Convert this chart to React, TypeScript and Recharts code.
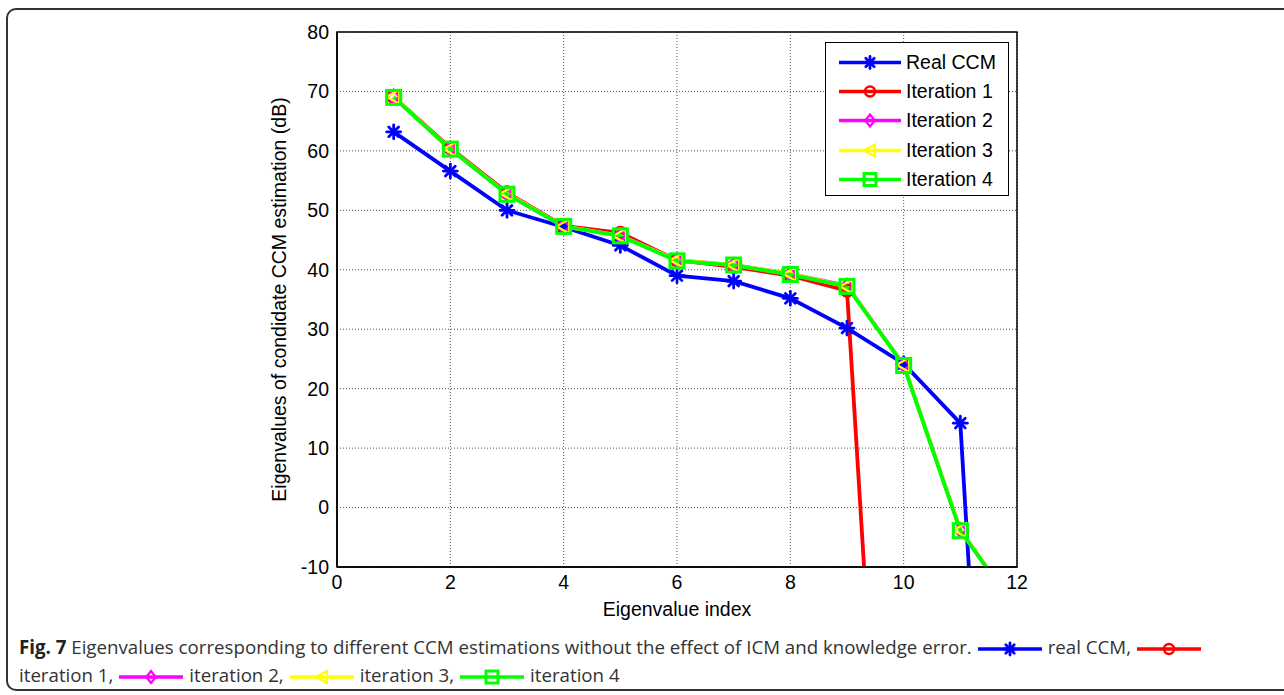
import React from 'react';
import {
  LineChart, Line, XAxis, YAxis, CartesianGrid, Legend, ReferenceArea
} from 'recharts';

// eigenvalue index on the x axis
const indices: number[] = [1, 2, 3, 4, 5, 6, 7, 8, 9, 10, 11, 12];

// eigenvalues (dB); the last points fall far below the axis and get clipped
const realCcm: number[] = [63.2, 56.6, 50.0, 47.2, 44.1, 39.0, 38.1, 35.2, 30.2, 24.2, 14.2, -147];
const iteration1: number[] = [69.1, 60.5, 53.0, 47.4, 46.2, 41.6, 40.5, 39.0, 36.5, -118];
const iteration2: number[] = [69.1, 60.3, 52.8, 47.3, 45.8, 41.6, 40.8, 39.3, 37.3, 24.0, -3.8, -17.3];
const iteration3: number[] = [69.1, 60.3, 52.8, 47.3, 45.7, 41.6, 40.8, 39.3, 37.2, 24.0, -3.8, -17.3];
const iteration4: number[] = [69.0, 60.3, 52.7, 47.3, 45.7, 41.5, 40.8, 39.2, 37.2, 23.9, -3.9, -17.3];

const xTicks: number[] = [0, 2, 4, 6, 8, 10, 12];
const yTicks: number[] = [-10, 0, 10, 20, 30, 40, 50, 60, 70, 80];

type MarkerKind = 'star' | 'circle' | 'diamond' | 'triangle' | 'square';

const series = [
  { key: 'real', name: 'Real CCM', caption: 'real CCM,', values: realCcm, color: '#0000ff', marker: 'star' as MarkerKind },
  { key: 'it1', name: 'Iteration 1', caption: 'iteration 1,', values: iteration1, color: '#ff0000', marker: 'circle' as MarkerKind },
  { key: 'it2', name: 'Iteration 2', caption: 'iteration 2,', values: iteration2, color: '#ff00ff', marker: 'diamond' as MarkerKind },
  { key: 'it3', name: 'Iteration 3', caption: 'iteration 3,', values: iteration3, color: '#ffff00', marker: 'triangle' as MarkerKind },
  { key: 'it4', name: 'Iteration 4', caption: 'iteration 4', values: iteration4, color: '#00ff00', marker: 'square' as MarkerKind },
];

const AXIS_FONT = '"Liberation Sans", Arial, sans-serif';
const CAPTION_FONT = '"Open Sans", "Noto Sans", sans-serif';

const Marker = ({ kind, cx, cy, color, s = 6 }: { kind: MarkerKind; cx: number; cy: number; color: string; s?: number }) => {
  switch (kind) {
    case 'star':
      return (
        <g stroke={color} strokeWidth={2.8} strokeLinecap="round">
          <line x1={cx - s} y1={cy} x2={cx + s} y2={cy} />
          <line x1={cx} y1={cy - s} x2={cx} y2={cy + s} />
          <line x1={cx - s * 0.7} y1={cy - s * 0.7} x2={cx + s * 0.7} y2={cy + s * 0.7} />
          <line x1={cx - s * 0.7} y1={cy + s * 0.7} x2={cx + s * 0.7} y2={cy - s * 0.7} />
        </g>
      );
    case 'circle':
      return <circle cx={cx} cy={cy} r={s - 1} fill="none" stroke={color} strokeWidth={2.5} />;
    case 'diamond':
      return <polygon points={`${cx},${cy - s} ${cx + s * 0.8},${cy} ${cx},${cy + s} ${cx - s * 0.8},${cy}`} fill="none" stroke={color} strokeWidth={2.2} />;
    case 'triangle':
      return <polygon points={`${cx - s},${cy} ${cx + s * 0.8},${cy - s} ${cx + s * 0.8},${cy + s}`} fill="none" stroke={color} strokeWidth={2.2} />;
    default:
      return <rect x={cx - s} y={cy - s} width={s * 2} height={s * 2} fill="none" stroke={color} strokeWidth={3} />;
  }
};

const makeDot = (kind: MarkerKind, color: string) => (p: any) => {
  const k = `${kind}-${p.index}`;
  if (p.value == null || p.value < -10 || !Number.isFinite(p.cy)) return <g key={k} />;
  return <g key={k}><Marker kind={kind} cx={p.cx} cy={p.cy} color={color} s={7} /></g>;
};

const LineIcon = ({ color, kind, width = 80, height = 29, x1 = 13, x2 = 75 }: { color: string; kind: MarkerKind; width?: number; height?: number; x1?: number; x2?: number }) => (
  <svg width={width} height={height} style={{ display: 'block', flex: 'none' }}>
    <line x1={x1} y1={height / 2} x2={x2} y2={height / 2} stroke={color} strokeWidth={3.5} />
    <Marker kind={kind} cx={(x1 + x2) / 2} cy={height / 2} color={color} />
  </svg>
);

const ChartLegend = () => (
  <div style={{
    width: 184, height: 154, boxSizing: 'border-box', border: '1.5px solid #000',
    background: '#fff', padding: '5px 0', fontFamily: AXIS_FONT, fontSize: 19.5, color: '#000'
  }}>
    {series.map(s => (
      <div key={s.key} style={{ display: 'flex', alignItems: 'center', height: 29.2 }}>
        <LineIcon color={s.color} kind={s.marker} />
        <span style={{ whiteSpace: 'nowrap' }}>{s.name}</span>
      </div>
    ))}
  </div>
);

const CaptionIcon = ({ color, kind }: { color: string; kind: MarkerKind }) => (
  <span style={{ display: 'inline-block', verticalAlign: 'middle', margin: '0 6px 0 6px' }}>
    <LineIcon color={color} kind={kind} width={64} height={20} x1={0} x2={64} />
  </span>
);

export default function App() {
  return (
    <div style={{ position: 'absolute', left: 0, top: 0, width: 1284, height: 695, background: '#fff', overflow: 'hidden' }}>
      <div style={{
        position: 'absolute', left: 6, top: 8, width: 1320, height: 683, boxSizing: 'border-box',
        border: '2px solid #333', borderRadius: 10
      }} />
      <div style={{ position: 'absolute', left: 0, top: 0 }}>
        <LineChart width={1284} height={630} margin={{ top: 32, right: 267, bottom: 23, left: 277 }}>
          <CartesianGrid stroke="#555" strokeDasharray="1 2" strokeWidth={1} />
          <XAxis
            type="number"
            dataKey="x"
            domain={[0, 12]}
            ticks={xTicks}
            interval={0}
            height={40}
            allowDataOverflow
            tickLine={false}
            axisLine={{ stroke: '#000', strokeWidth: 1.5 }}
            tick={{ fill: '#000', fontSize: 19.5, fontFamily: AXIS_FONT }}
            label={{
              content: ({ viewBox }: any) => (
                <text x={viewBox.x + viewBox.width / 2} y={viewBox.y + 49} textAnchor="middle"
                  fill="#000" fontSize={19.5} fontFamily={AXIS_FONT}>Eigenvalue index</text>
              )
            }}
          />
          <YAxis
            type="number"
            domain={[-10, 80]}
            ticks={yTicks}
            interval={0}
            width={60}
            allowDataOverflow
            tickLine={false}
            axisLine={{ stroke: '#000', strokeWidth: 1.5 }}
            tick={{ fill: '#000', fontSize: 19.5, fontFamily: AXIS_FONT }}
            label={{
              content: ({ viewBox }: any) => {
                const cx = viewBox.x + 2;
                const cy = viewBox.y + viewBox.height / 2;
                return (
                  <text x={cx} y={cy} transform={`rotate(-90, ${cx}, ${cy})`} textAnchor="middle"
                    dominantBaseline="central" fill="#000" fontSize={19.5} fontFamily={AXIS_FONT}>
                    Eigenvalues of condidate CCM estimation (dB)
                  </text>
                );
              }
            }}
          />
          <ReferenceArea x1={0} x2={12} y1={-10} y2={80} fill="none" stroke="#000" strokeWidth={1.5} />
          {series.map(s => (
            <Line
              key={s.key}
              name={s.name}
              data={s.values.map((v, i) => ({ x: indices[i], y: v }))}
              dataKey="y"
              type="linear"
              stroke={s.color}
              strokeWidth={3.8}
              dot={makeDot(s.marker, s.color)}
              activeDot={false}
              isAnimationActive={false}
            />
          ))}
          <Legend
            layout="vertical"
            align="center"
            verticalAlign="middle"
            width={184}
            wrapperStyle={{ top: 42, left: 825, width: 184 }}
            content={() => <ChartLegend />}
          />
        </LineChart>
      </div>
      <div style={{
        position: 'absolute', left: 19, top: 633, width: 1260, fontFamily: CAPTION_FONT,
        fontSize: 18.7, lineHeight: '28px', color: '#333', whiteSpace: 'nowrap'
      }}>
        <b style={{ color: '#222' }}>Fig. 7</b> Eigenvalues corresponding to different CCM estimations without the effect of ICM and knowledge error.
        <CaptionIcon color={series[0].color} kind={series[0].marker} />{series[0].caption}
        <CaptionIcon color={series[1].color} kind={series[1].marker} />
        <br />
        {series[1].caption}
        <CaptionIcon color={series[2].color} kind={series[2].marker} />{series[2].caption}
        <CaptionIcon color={series[3].color} kind={series[3].marker} />{series[3].caption}
        <CaptionIcon color={series[4].color} kind={series[4].marker} />{series[4].caption}
      </div>
    </div>
  );
}
